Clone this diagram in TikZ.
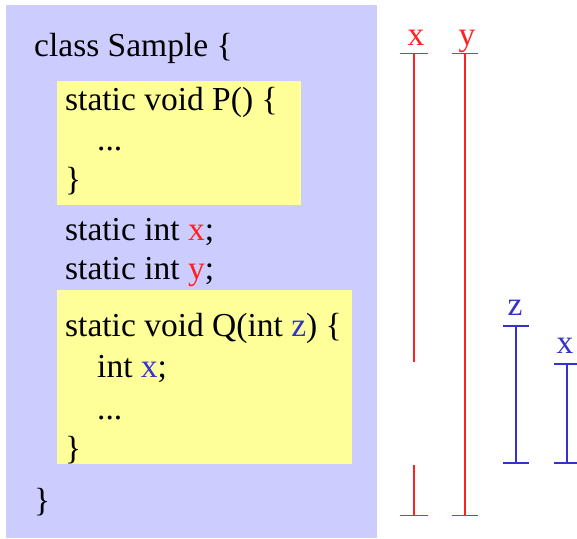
\documentclass[tikz,border=0pt]{standalone}
\usepackage{fontspec}
\setmainfont{Liberation Serif}
\usetikzlibrary{arrows.meta,positioning}
\definecolor{scPurple}{HTML}{CCCCFF}
\definecolor{scYellow}{HTML}{FFFF99}
\definecolor{scRed}{HTML}{FF2020}
\definecolor{scBlue}{HTML}{3333CC}
\tikzset{
  sc code/.style={anchor=base west, inner sep=0pt, font=\fontsize{33.5}{40}\selectfont},
  sc var/.style={anchor=base, inner sep=0pt, font=\fontsize{33.5}{40}\selectfont},
  sc red life/.style={draw=scRed, line width=1.2pt},
  sc blue life/.style={draw=scBlue, line width=2pt},
}
\begin{document}
\begin{tikzpicture}[x=1pt,y=-1pt]
  \useasboundingbox (0,0) rectangle (577,538);
  \clip (0,0) rectangle (577,538);
  % class body and the two method bodies
  \fill[scPurple] (6,5) rectangle (377,538);
  \fill[scYellow] (57,81) rectangle (301,205);
  \fill[scYellow] (57,290) rectangle (352,464);
  % source text
  \node[sc code] (cls) at (34,56) {class Sample \{};
  \node[sc code] (p1) at (65,110) {static void P() \{};
  \node[sc code] (p2) at (97,150) {...};
  \node[sc code] (p3) at (65,190) {\}};
  \node[sc code] (fx) at (65,240) {static int \textcolor{scRed}{x};};
  \node[sc code] (fy) at (65,279) {static int \textcolor{scRed}{y};};
  \node[sc code] (q1) at (65,336) {static void Q(int \textcolor{scBlue}{z}) \{};
  \node[sc code] (q2) at (97,377) {int \textcolor{scBlue}{x};};
  \node[sc code] (q3) at (97,419) {...};
  \node[sc code] (q4) at (65,459) {\}};
  \node[sc code] (cend) at (34,511) {\}};
  % lifetimes of the static fields
  \node[sc var, text=scRed] (lx) at (416,45) {x};
  \node[sc var, text=scRed] (ly) at (467,45) {y};
  \coordinate (xtop) at (414,53);
  \coordinate (xcut) at (414,362);
  \coordinate (xback) at (414,465);
  \coordinate (xbot) at (414,516);
  \coordinate (ytop) at (465,53);
  \coordinate (ybot) at (465,516);
  \draw[sc red life, {Bar[width=28pt]}-] (xtop) -- (xcut);
  \draw[sc red life, -{Bar[width=28pt]}] (xback) -- (xbot);
  \draw[sc red life, {Bar[width=26pt]}-{Bar[width=26pt]}] (ytop) -- (ybot);
  % lifetimes of the locals of Q
  \node[sc var, text=scBlue] (lz) at (515,315) {z};
  \node[sc var, text=scBlue] (lq) at (565,353) {x};
  \coordinate (ztop) at (516,325);
  \coordinate (zbot) at (516,464);
  \coordinate (qtop) at (567,363);
  \coordinate (qbot) at (567,464);
  \draw[sc blue life, {Bar[width=26pt]}-{Bar[width=26pt]}] (ztop) -- (zbot);
  \draw[sc blue life, {Bar[width=26pt]}-{Bar[width=26pt]}] (qtop) -- (qbot);
\end{tikzpicture}
\end{document}
